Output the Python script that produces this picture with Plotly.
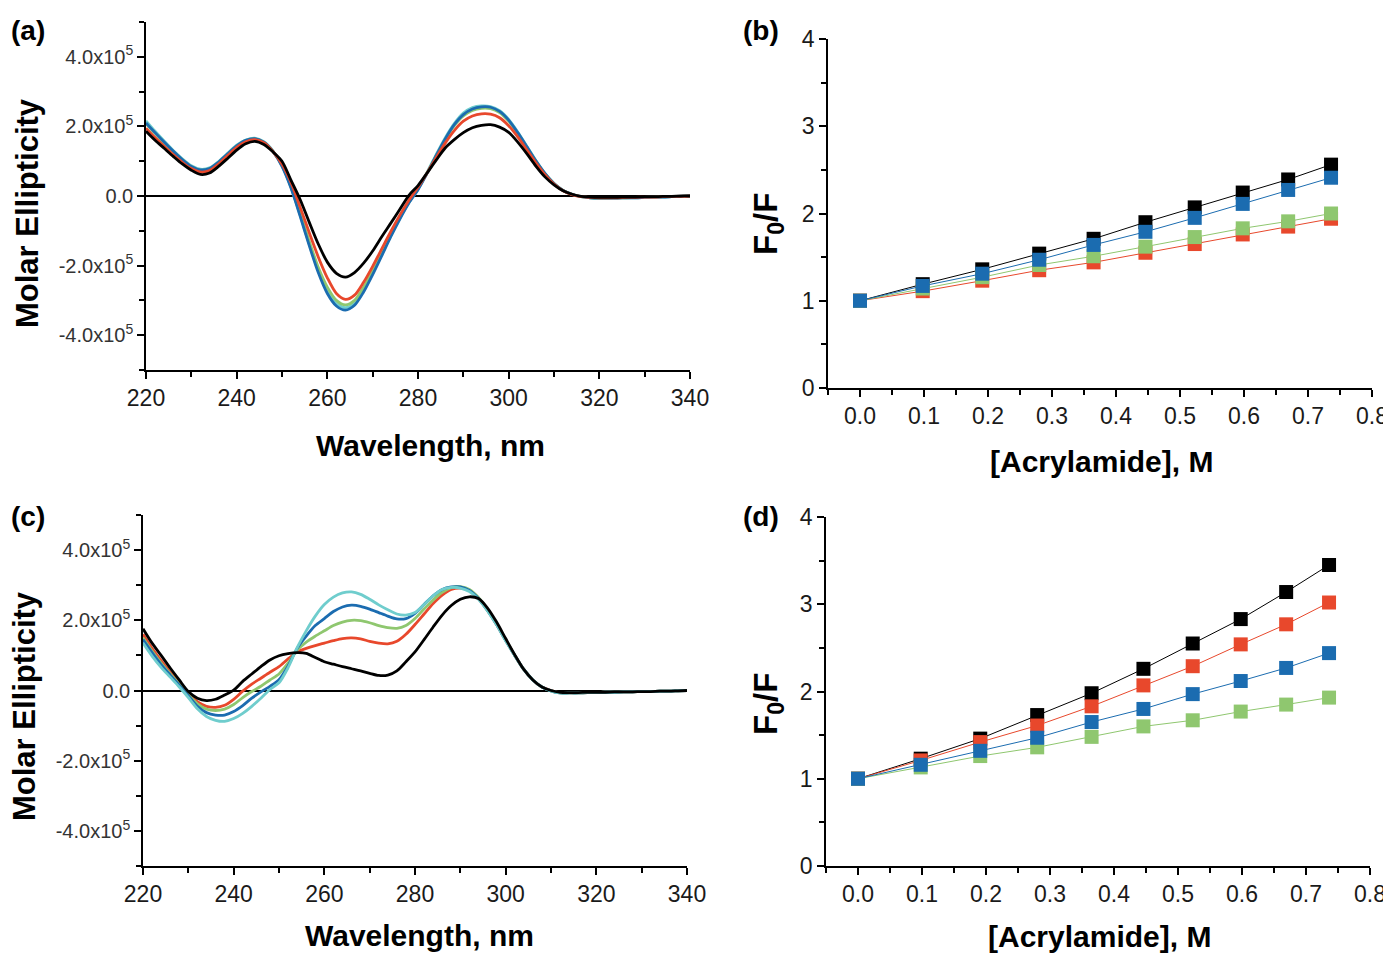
import plotly.graph_objects as go

# ---------------- data ----------------
# CD spectra: wavelength grid (nm) and molar ellipticity in units of 1e5
wavelength = list(range(220, 341, 2))
unit = 1e5

a_black = [1.86, 1.60, 1.37, 1.14, 0.92, 0.74, 0.62, 0.66, 0.85, 1.08, 1.32, 1.50, 1.57, 1.48, 1.27, 1.00,
           0.45, -0.10, -0.75, -1.38, -1.90, -2.22, -2.33, -2.20, -1.93, -1.58, -1.17, -0.78, -0.38, 0.02,
           0.30, 0.66, 1.03, 1.38, 1.62, 1.82, 1.96, 2.03, 2.05, 1.98, 1.83, 1.55, 1.22, 0.86, 0.55, 0.32,
           0.15, 0.05, -0.01, -0.03, -0.04, -0.04, -0.04, -0.03, -0.03, -0.02, -0.02, -0.01, -0.01, 0.00, 0.00]
a_red = [1.95, 1.68, 1.43, 1.19, 0.97, 0.79, 0.69, 0.73, 0.92, 1.16, 1.40, 1.56, 1.62, 1.53, 1.28, 0.92,
         0.38, -0.32, -1.05, -1.75, -2.35, -2.80, -2.97, -2.85, -2.48, -2.02, -1.52, -1.02, -0.55, -0.12,
         0.25, 0.66, 1.10, 1.52, 1.88, 2.15, 2.30, 2.36, 2.35, 2.25, 2.02, 1.70, 1.33, 0.95, 0.61, 0.34,
         0.15, 0.04, -0.02, -0.04, -0.05, -0.05, -0.05, -0.04, -0.04, -0.03, -0.03, -0.02, -0.01, -0.01, 0.00]
a_green = [2.08, 1.80, 1.53, 1.27, 1.04, 0.84, 0.74, 0.78, 0.96, 1.20, 1.43, 1.59, 1.64, 1.54, 1.28, 0.87,
           0.26, -0.50, -1.30, -2.05, -2.62, -3.00, -3.13, -3.00, -2.62, -2.14, -1.62, -1.10, -0.62, -0.18,
           0.20, 0.66, 1.15, 1.62, 2.02, 2.30, 2.46, 2.52, 2.51, 2.40, 2.15, 1.80, 1.40, 1.00, 0.64, 0.36,
           0.16, 0.05, -0.02, -0.05, -0.06, -0.06, -0.05, -0.05, -0.04, -0.04, -0.03, -0.02, -0.02, -0.01, 0.00]
a_blue = [2.10, 1.82, 1.55, 1.29, 1.05, 0.85, 0.75, 0.79, 0.97, 1.21, 1.44, 1.60, 1.65, 1.55, 1.28, 0.85,
          0.22, -0.58, -1.42, -2.20, -2.80, -3.16, -3.28, -3.14, -2.76, -2.26, -1.72, -1.17, -0.66, -0.20,
          0.18, 0.65, 1.16, 1.64, 2.05, 2.34, 2.50, 2.56, 2.55, 2.43, 2.18, 1.82, 1.42, 1.01, 0.65, 0.36,
          0.16, 0.05, -0.02, -0.05, -0.06, -0.06, -0.06, -0.05, -0.05, -0.04, -0.03, -0.03, -0.02, -0.01, 0.00]
a_cyan = [2.16, 1.86, 1.58, 1.31, 1.07, 0.87, 0.77, 0.81, 0.99, 1.23, 1.46, 1.61, 1.66, 1.56, 1.30, 0.88,
          0.25, -0.55, -1.38, -2.14, -2.72, -3.08, -3.21, -3.08, -2.70, -2.21, -1.68, -1.14, -0.64, -0.18,
          0.20, 0.68, 1.19, 1.67, 2.08, 2.38, 2.54, 2.59, 2.57, 2.45, 2.20, 1.84, 1.43, 1.02, 0.65, 0.36,
          0.16, 0.05, -0.02, -0.05, -0.06, -0.06, -0.06, -0.05, -0.05, -0.04, -0.03, -0.03, -0.02, -0.01, 0.00]

c_black = [1.76, 1.35, 1.00, 0.64, 0.30, -0.03, -0.22, -0.29, -0.25, -0.13, 0.01, 0.26, 0.47, 0.68, 0.87, 0.99,
           1.05, 1.08, 1.06, 0.94, 0.82, 0.75, 0.68, 0.62, 0.56, 0.49, 0.43, 0.44, 0.56, 0.82, 1.10, 1.45,
           1.81, 2.15, 2.42, 2.60, 2.67, 2.62, 2.35, 1.95, 1.48, 1.02, 0.60, 0.30, 0.10, 0.00, -0.05, -0.06,
           -0.06, -0.05, -0.05, -0.05, -0.04, -0.04, -0.04, -0.03, -0.03, -0.02, -0.02, -0.01, 0.00]
c_red = [1.60, 1.20, 0.85, 0.52, 0.22, -0.08, -0.32, -0.45, -0.48, -0.42, -0.25, -0.02, 0.18, 0.35, 0.52, 0.68,
         0.90, 1.10, 1.20, 1.28, 1.35, 1.42, 1.48, 1.50, 1.47, 1.40, 1.35, 1.33, 1.40, 1.60, 1.88, 2.18,
         2.48, 2.72, 2.88, 2.92, 2.85, 2.62, 2.28, 1.88, 1.43, 1.00, 0.60, 0.30, 0.10, 0.00, -0.06, -0.07,
         -0.07, -0.06, -0.06, -0.05, -0.05, -0.04, -0.04, -0.03, -0.03, -0.02, -0.02, -0.01, 0.00]
c_green = [1.50, 1.12, 0.78, 0.47, 0.18, -0.12, -0.38, -0.53, -0.57, -0.53, -0.40, -0.20, -0.03, 0.12, 0.30, 0.47,
           0.78, 1.15, 1.38, 1.55, 1.70, 1.85, 1.95, 2.00, 1.99, 1.93, 1.85, 1.79, 1.77, 1.85, 2.05, 2.32,
           2.58, 2.80, 2.93, 2.96, 2.88, 2.65, 2.30, 1.90, 1.45, 1.00, 0.60, 0.30, 0.10, -0.01, -0.07, -0.07,
           -0.07, -0.06, -0.06, -0.05, -0.05, -0.04, -0.04, -0.03, -0.03, -0.02, -0.02, -0.01, 0.00]
c_blue = [1.45, 1.08, 0.74, 0.44, 0.15, -0.15, -0.45, -0.63, -0.70, -0.70, -0.60, -0.43, -0.22, -0.04, 0.12, 0.31,
          0.70, 1.20, 1.55, 1.85, 2.05, 2.25, 2.38, 2.43, 2.40, 2.32, 2.22, 2.12, 2.04, 2.05, 2.20, 2.45,
          2.70, 2.88, 2.95, 2.95, 2.85, 2.62, 2.28, 1.88, 1.43, 1.00, 0.60, 0.30, 0.10, -0.01, -0.07, -0.07,
          -0.07, -0.06, -0.06, -0.05, -0.05, -0.04, -0.04, -0.03, -0.03, -0.02, -0.02, -0.01, 0.00]
c_cyan = [1.35, 0.98, 0.66, 0.38, 0.10, -0.20, -0.52, -0.74, -0.85, -0.88, -0.80, -0.65, -0.45, -0.22, 0.03, 0.22,
          0.65, 1.22, 1.70, 2.12, 2.45, 2.66, 2.78, 2.81, 2.74, 2.60, 2.44, 2.30, 2.18, 2.15, 2.22, 2.45,
          2.70, 2.88, 2.94, 2.92, 2.82, 2.60, 2.27, 1.87, 1.42, 1.00, 0.60, 0.30, 0.10, -0.01, -0.07, -0.07,
          -0.07, -0.06, -0.06, -0.05, -0.05, -0.04, -0.04, -0.03, -0.03, -0.02, -0.02, -0.01, 0.00]

# Stern-Volmer quenching data
acrylamide = [0.0, 0.098, 0.191, 0.280, 0.365, 0.446, 0.523, 0.598, 0.669, 0.736]
b_black = [1.0, 1.19, 1.36, 1.54, 1.71, 1.90, 2.07, 2.24, 2.39, 2.56]
b_red = [1.0, 1.11, 1.23, 1.35, 1.44, 1.55, 1.65, 1.76, 1.85, 1.94]
b_green = [1.0, 1.14, 1.27, 1.41, 1.51, 1.62, 1.73, 1.83, 1.91, 2.00]
b_blue = [1.0, 1.17, 1.31, 1.47, 1.64, 1.79, 1.95, 2.11, 2.27, 2.41]

d_black = [1.0, 1.23, 1.46, 1.73, 1.98, 2.26, 2.55, 2.83, 3.14, 3.45]
d_red = [1.0, 1.21, 1.42, 1.61, 1.83, 2.07, 2.29, 2.54, 2.77, 3.02]
d_green = [1.0, 1.13, 1.26, 1.36, 1.48, 1.60, 1.67, 1.77, 1.85, 1.93]
d_blue = [1.0, 1.16, 1.32, 1.47, 1.65, 1.80, 1.97, 2.12, 2.27, 2.44]

cd_ticks = [-4, -2, 0, 2, 4]
cd_ticktext = ["-4.0x10<sup>5</sup>", "-2.0x10<sup>5</sup>", "0.0", "2.0x10<sup>5</sup>", "4.0x10<sup>5</sup>"]

# ---------------- styling ----------------
BLACK = "#000000"
RED = "#e8482c"
GREEN = "#8fc76f"
BLUE = "#1b6cb0"
CYAN = "#6fcdcd"
FONT = "Liberation Sans, Arial, sans-serif"

fig = go.Figure()

def cd_traces(series, xa, ya):
    for ys, col in series:
        fig.add_trace(go.Scatter(x=wavelength, y=[v * unit for v in ys], mode="lines",
                                 line=dict(color=col, width=2.8, shape="spline", smoothing=0.8),
                                 xaxis=xa, yaxis=ya, showlegend=False))

cd_traces([(a_cyan, CYAN), (a_green, GREEN), (a_blue, BLUE), (a_red, RED), (a_black, BLACK)], "x", "y")
cd_traces([(c_red, RED), (c_green, GREEN), (c_blue, BLUE), (c_cyan, CYAN), (c_black, BLACK)], "x3", "y3")

def sv_traces(series, xa, ya):
    for ys, col in series:
        fig.add_trace(go.Scatter(x=acrylamide, y=ys, mode="lines+markers",
                                 line=dict(color=col, width=1),
                                 marker=dict(symbol="square", size=14, color=col),
                                 xaxis=xa, yaxis=ya, showlegend=False))

sv_traces([(b_black, BLACK), (b_red, RED), (b_green, GREEN), (b_blue, BLUE)], "x2", "y2")
sv_traces([(d_black, BLACK), (d_red, RED), (d_green, GREEN), (d_blue, BLUE)], "x4", "y4")

OFF = 8  # page body margin
W, H = 1391 - OFF, 953 - OFF
def dx(a, b):
    return [(a - OFF) / W, (b - OFF) / W]
def dy(top, bottom):
    return [1 - (bottom - OFF) / H, 1 - (top - OFF) / H]

base = dict(showline=True, linecolor="black", linewidth=1.6, ticks="outside", ticklen=7,
            tickwidth=1.5, tickcolor="black", showgrid=False, zeroline=False, automargin=False,
            tickfont=dict(family=FONT, size=23, color="#1a1a1a"))

def wl_axis(domain, anchor):
    d = dict(base)
    d.update(domain=domain, anchor=anchor, range=[220, 340], tickmode="linear", tick0=220, dtick=20,
             minor=dict(tickmode="linear", tick0=220, dtick=10, ticks="outside", ticklen=5,
                        tickwidth=1.5, tickcolor="black"))
    return d

def cd_yaxis(domain, anchor):
    d = dict(base)
    d.update(domain=domain, anchor=anchor, range=[-5e5, 5e5], tickmode="array",
             tickvals=[t * unit for t in cd_ticks], ticktext=cd_ticktext,
             tickfont=dict(family=FONT, size=20, color="#333333"),
             zeroline=True, zerolinecolor="black", zerolinewidth=1.6,
             minor=dict(tickmode="linear", tick0=-5e5, dtick=1e5, ticks="outside", ticklen=5,
                        tickwidth=1.5, tickcolor="black"))
    return d

def conc_axis(domain, anchor):
    d = dict(base)
    d.update(domain=domain, anchor=anchor, range=[-0.05, 0.8], tickmode="linear", tick0=0, dtick=0.1,
             tickformat=".1f",
             minor=dict(tickmode="linear", tick0=0.05, dtick=0.1, ticks="outside", ticklen=5,
                        tickwidth=1.5, tickcolor="black"))
    return d

def ratio_axis(domain, anchor):
    d = dict(base)
    d.update(domain=domain, anchor=anchor, range=[0, 4], tickmode="linear", tick0=0, dtick=1,
             minor=dict(tickmode="linear", tick0=0.5, dtick=1, ticks="outside", ticklen=5,
                        tickwidth=1.5, tickcolor="black"))
    return d

fig.update_layout(
    template="none",
    width=W, height=H, margin=dict(l=0, r=0, t=0, b=0, pad=0, autoexpand=False),
    paper_bgcolor="white", plot_bgcolor="white",
    xaxis=wl_axis(dx(146, 690), "y"), yaxis=cd_yaxis(dy(22, 370), "x"),
    xaxis2=conc_axis(dx(828, 1372), "y2"), yaxis2=ratio_axis(dy(39, 388), "x2"),
    xaxis3=wl_axis(dx(143, 687), "y3"), yaxis3=cd_yaxis(dy(515, 866), "x3"),
    xaxis4=conc_axis(dx(826, 1370), "y4"), yaxis4=ratio_axis(dy(517, 866), "x4"),
)

def ann(text, px, py, size, angle=0):
    fig.add_annotation(text=text, x=(px - OFF) / W, y=1 - (py - OFF) / H, xref="paper", yref="paper",
                       showarrow=False, textangle=angle, xanchor="center", yanchor="middle",
                       font=dict(family=FONT, size=size, color="black"))

ann("<b>(a)</b>", 28, 31, 28)
ann("<b>(b)</b>", 761, 31, 28)
ann("<b>(c)</b>", 28, 516, 28)
ann("<b>(d)</b>", 761, 516, 28)
ann("<b>Molar Ellipticity</b>", 27, 213, 31, -90)
ann("<b>Molar Ellipticity</b>", 24, 706, 31, -90)
ann("<b>Wavelength, nm</b>", 430, 445, 30)
ann("<b>Wavelength, nm</b>", 419, 935, 30)
ann("<b>[Acrylamide], M</b>", 1101, 461, 30)
ann("<b>[Acrylamide], M</b>", 1099, 936, 30)
ann("<b>F<sub>0</sub>/F</b>", 768, 224, 33, -90)
ann("<b>F<sub>0</sub>/F</b>", 768, 704, 33, -90)

fig.write_html("out.html")
